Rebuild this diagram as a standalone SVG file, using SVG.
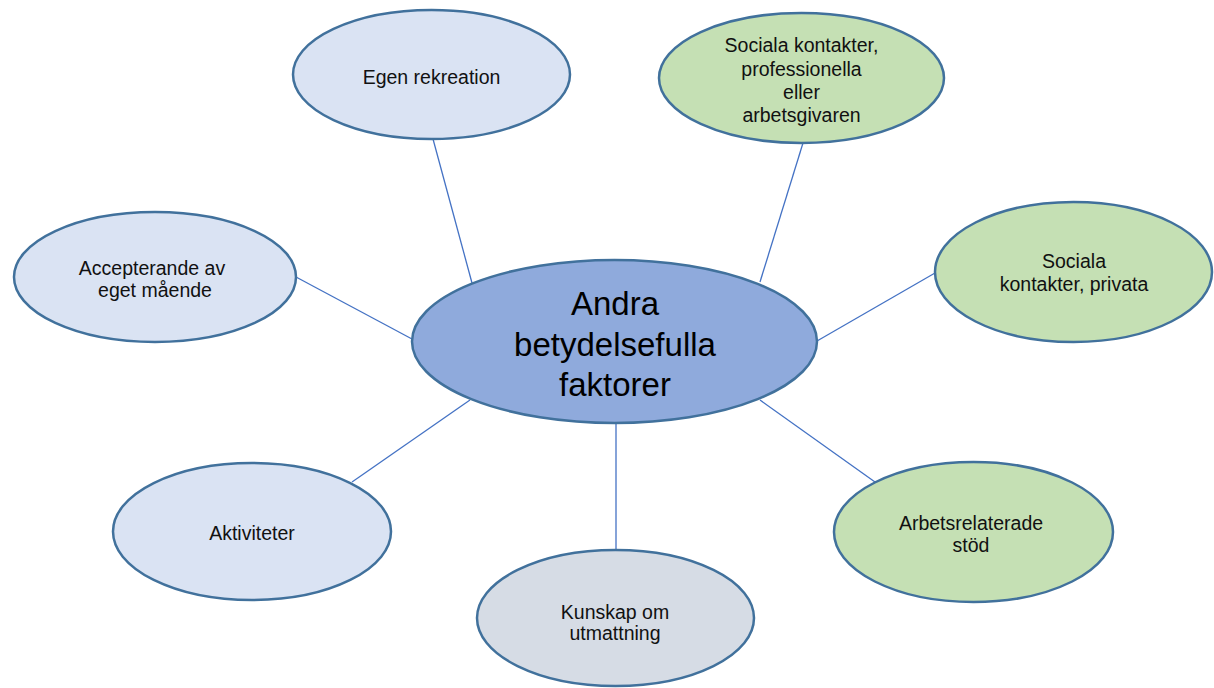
<svg xmlns="http://www.w3.org/2000/svg" width="1214" height="688" viewBox="0 0 1214 688">
<style>
.n{stroke:#41719C;stroke-width:2.5}
.blue{fill:#DAE3F3}
.green{fill:#C5E0B4}
.gray{fill:#D6DCE5}
.center{fill:#8FAADC}
text{font-family:"Liberation Sans",Arial,sans-serif;font-size:19.5px;fill:#111;text-anchor:middle;dominant-baseline:central}
.big{font-size:33px;fill:#000}
.c line{stroke:#4472C4;stroke-width:1.3}
</style>
<rect width="1214" height="688" fill="#fff"/>
<g class="c" id="connectors">
<line x1="433" y1="139" x2="472" y2="283"/>
<line x1="803" y1="143" x2="760" y2="282"/>
<line x1="935" y1="273" x2="817" y2="341"/>
<line x1="296" y1="277" x2="412" y2="339"/>
<line x1="352" y1="482" x2="470" y2="400"/>
<line x1="616" y1="423" x2="616" y2="550"/>
<line x1="760" y1="400" x2="875" y2="482"/>
</g>
<g id="egen"><ellipse class="n blue" cx="431.5" cy="74.5" rx="138.5" ry="64.5"/><text x="431.5" y="77">Egen rekreation</text></g>
<g id="prof"><ellipse class="n green" cx="801.5" cy="78" rx="142.5" ry="65"/>
<text x="801.5" y="45">Sociala kontakter,</text><text x="801.5" y="68.5">professionella</text><text x="801.5" y="92">eller</text><text x="801.5" y="115">arbetsgivaren</text></g>
<g id="privata"><ellipse class="n green" cx="1073.5" cy="272" rx="138.5" ry="70"/>
<text x="1074" y="261">Sociala</text><text x="1074" y="284">kontakter, privata</text></g>
<g id="accept"><ellipse class="n blue" cx="155" cy="277" rx="141" ry="65"/>
<text x="152" y="268">Accepterande av</text><text x="155" y="290">eget mående</text></g>
<g id="center"><ellipse class="n center" cx="614.5" cy="341.5" rx="202.5" ry="81.5"/>
<text class="big" x="615" y="303">Andra</text><text class="big" x="615" y="344">betydelsefulla</text><text class="big" x="615" y="384">faktorer</text></g>
<g id="aktiviteter"><ellipse class="n blue" cx="252" cy="531.5" rx="139" ry="68.5"/><text x="252" y="533">Aktiviteter</text></g>
<g id="kunskap"><ellipse class="n gray" cx="615.5" cy="618" rx="138.5" ry="68"/>
<text x="615" y="612">Kunskap om</text><text x="615" y="633">utmattning</text></g>
<g id="arbets"><ellipse class="n green" cx="973.5" cy="532" rx="139.5" ry="70"/>
<text x="971" y="523">Arbetsrelaterade</text><text x="971" y="545">stöd</text></g>
</svg>
